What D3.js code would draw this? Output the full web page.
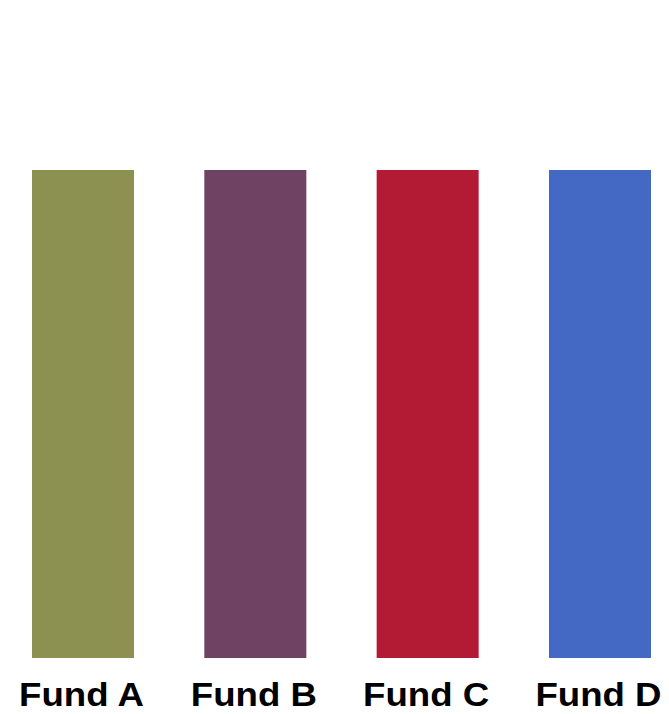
<!DOCTYPE html>
<html>
<head>
<meta charset="utf-8">
<script src="https://cdn.jsdelivr.net/npm/d3@7"></script>
<style>
  html, body { margin: 0; padding: 0; background: #ffffff; }
  svg { display: block; }
</style>
</head>
<body>
<div id="chart"></div>
<script>
// Fund categories and their values
const funds = ["Fund A", "Fund B", "Fund C", "Fund D"];
const values = [100, 100, 100, 100];
const colors = ["#8C9051", "#6F4263", "#B31B34", "#4469C5"];

const width = 669, height = 714;

const svg = d3.select("#chart").append("svg")
  .attr("width", width)
  .attr("height", height);

const x = d3.scaleBand()
  .domain(funds)
  .range([32, 651])
  .paddingInner(0.408)
  .paddingOuter(0);

const y = d3.scaleLinear()
  .domain([0, 100])
  .range([658, 170]);

svg.selectAll("rect.bar")
  .data(funds.map((f, i) => ({ fund: f, value: values[i], color: colors[i] })))
  .join("rect")
  .attr("class", "bar")
  .attr("x", d => x(d.fund))
  .attr("width", x.bandwidth())
  .attr("y", d => y(d.value))
  .attr("height", d => y(0) - y(d.value))
  .attr("fill", d => d.color);

// Category labels below the bars (wide bold face)
const axis = d3.axisBottom(x).tickSize(0).tickPadding(0);
const g = svg.append("g")
  .attr("transform", "translate(0,706)")
  .call(axis);
g.select(".domain").remove();
g.selectAll("text")
  .attr("dy", null)
  .attr("y", 0)
  .attr("x", 0)
  .attr("transform", "translate(-1.5,0) scale(1.11,1)")
  .attr("fill", "#000")
  .style("font-family", "'Liberation Sans', Arial, sans-serif")
  .style("font-weight", "bold")
  .style("font-size", "33px");
</script>
</body>
</html>
